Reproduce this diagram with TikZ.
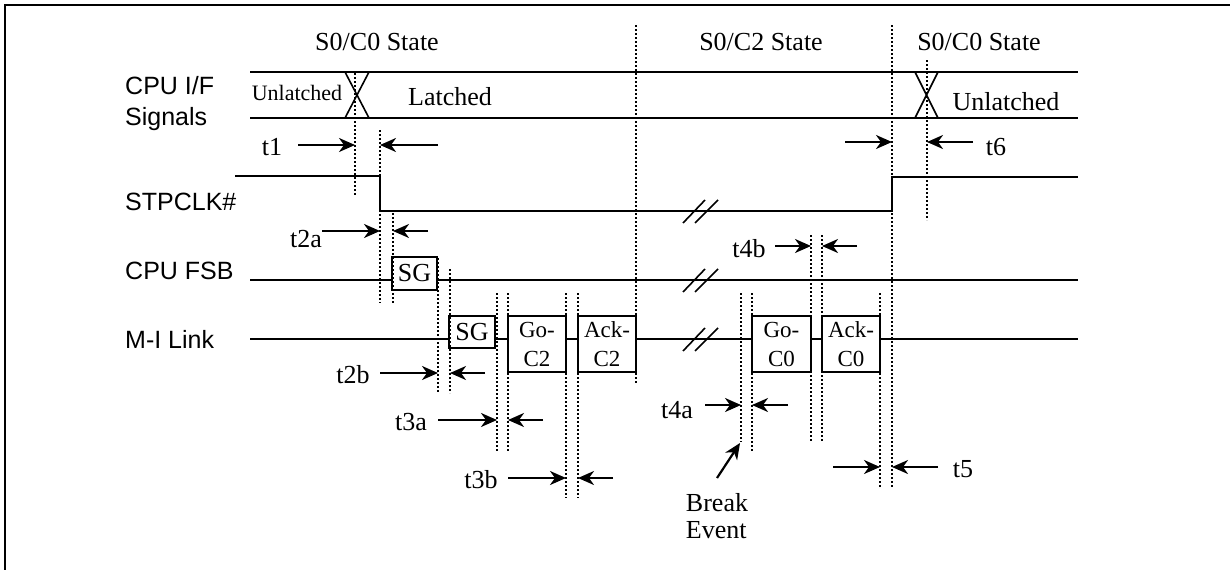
\documentclass[tikz,border=0pt]{standalone}
\usepackage{fontspec}
\setmainfont{Liberation Serif}
\newfontfamily\sinyalfont{Liberation Sans}
\usetikzlibrary{positioning, arrows.meta}

\begin{document}
\begin{tikzpicture}[x=1pt, y=-1pt,
      garis/.style={line width=2.4pt},
      tipis/.style={line width=1.6pt},
      titik/.style={line width=2pt, dash pattern=on 2pt off 2pt},
      kotak/.style={draw, line width=2.2pt, fill=white, align=center, inner sep=0pt, font=\fontsize{23pt}{29pt}\selectfont},
      sinyal/.style={anchor=west, align=left, inner sep=0pt, font=\sinyalfont\fontsize{25pt}{31pt}\selectfont},
      teks/.style={anchor=base, inner sep=0pt, font=\fontsize{26pt}{28pt}\selectfont},
      panah/.style={-{Stealth[length=16pt, width=14pt, inset=5pt]}, line width=2.2pt}
    ]
    \useasboundingbox (0,0) rectangle (1230,570);

    % ─── Frame ───────────────────────────────────────────────────
    \draw[garis] (1230,5) -- (5,5) -- (5,570);

    % ─── State labels ────────────────────────────────────────────
    \node[teks] (st1) at (377,50) {S0/C0 State};
    \node[teks] (st2) at (761,50) {S0/C2 State};
    \node[teks] (st3) at (979,50) {S0/C0 State};

    % ─── Signal names (kolom kiri) ───────────────────────────────
    \node[sinyal] (cpuif)  at (125,104) {CPU I/F\\Signals};
    \node[sinyal] (stpclk) at (125,202) {STPCLK\#};
    \node[sinyal] (fsb)    at (125,271) {CPU FSB};
    \node[sinyal] (mil)    at (125,339) {M-I Link};

    % ─── CPU I/F Signals ─────────────────────────────────────────
    \draw[garis] (250,72) -- (1078,72);
    \draw[garis] (250,118) -- (1078,118);
    \draw[tipis] (345,72) -- (369,118) (369,72) -- (345,118);
    \draw[tipis] (915,72) -- (938,118) (938,72) -- (915,118);
    \node[teks, font=\fontsize{22pt}{24pt}\selectfont] (unl1) at (297,100) {Unlatched};
    \node[teks] (lat)  at (450,105) {Latched};
    \node[teks] (unl2) at (1006,110) {Unlatched};

    % ─── STPCLK# ─────────────────────────────────────────────────
    \draw[garis] (235,176) -- (380,176) -- (380,211) -- (892,211) -- (892,177) -- (1078,177);

    % ─── CPU FSB & M-I Link ──────────────────────────────────────
    \draw[garis] (250,280) -- (1078,280);
    \draw[garis] (250,339) -- (1078,339);
    \node[kotak, minimum width=45pt, minimum height=33pt, font=\fontsize{26pt}{28pt}\selectfont] (sg1) at (414.5,273.5) {SG};
    \node[kotak, minimum width=46pt, minimum height=32pt, font=\fontsize{26pt}{28pt}\selectfont] (sg2) at (472,332) {SG};
    \node[kotak, minimum width=58pt, minimum height=56pt] (goc2)  at (537,344) {Go-\\C2};
    \node[kotak, minimum width=58pt, minimum height=56pt] (ackc2) at (607,344) {Ack-\\C2};
    \node[kotak, minimum width=59pt, minimum height=56pt] (goc0)  at (781.5,344) {Go-\\C0};
    \node[kotak, minimum width=58pt, minimum height=56pt] (ackc0) at (851,344) {Ack-\\C0};

    % break marks
    \foreach \y in {211,280,339}
      \draw[tipis] (683,\y+12) -- (705,\y-11) (695,\y+12) -- (718,\y-11);

    % ─── Dotted markers ──────────────────────────────────────────
    \foreach \x/\a/\b in {355/73/195, 380/130/303, 393/213/303, 438/258/393, 450/269/393,
        497/293/452, 508/293/452, 566/293/498, 578/293/498, 636/25/383,
        741/293/442, 752/293/452, 811/235/442, 822/235/442, 880/293/487,
        892/25/487, 927/60/220}
      \draw[titik] (\x,\a) -- (\x,\b);

    % ─── Timing labels ───────────────────────────────────────────
    \node[teks] (t1)  at (272,155) {t1};
    \node[teks] (t2a) at (306,247) {t2a};
    \node[teks] (t2b) at (353,383) {t2b};
    \node[teks] (t3a) at (411,430) {t3a};
    \node[teks] (t3b) at (481,488) {t3b};
    \node[teks] (t4a) at (677,418) {t4a};
    \node[teks] (t4b) at (749,257) {t4b};
    \node[teks] (t5)  at (963,477) {t5};
    \node[teks] (t6)  at (996,155) {t6};
    \node[teks, anchor=center, align=left, font=\fontsize{26pt}{27pt}\selectfont] (brk) at (717,516) {Break\\Event};

    % ─── Arrows ──────────────────────────────────────────────────
    \foreach \a/\b/\y in {298/355/145, 438/380/145, 322/380/231, 428/393/231,
        380/438/373, 485/450/373, 438/497/420, 543/508/420, 508/566/478, 613/578/478,
        705/741/405, 788/752/405, 775/811/246, 857/822/246,
        833/880/467, 938/892/467, 845/892/142, 973/927/142}
      \draw[panah] (\a,\y) -- (\b,\y);
    \draw[panah] (717,478) -- (740,443);

\end{tikzpicture}
\end{document}
